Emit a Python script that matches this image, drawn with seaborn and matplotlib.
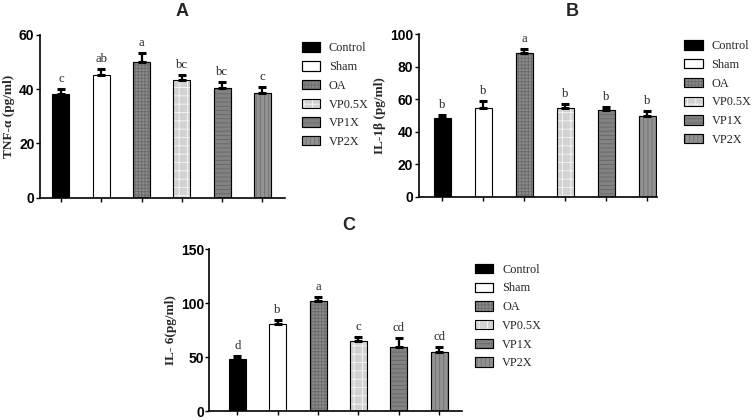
import matplotlib
matplotlib.use("Agg")
import matplotlib.pyplot as plt
import matplotlib.patches as mpatches
import seaborn as sns

# group names and per-panel means / SEM (upper only) / significance letters
groups = ['Control', 'Sham', 'OA', 'VP0.5X', 'VP1X', 'VP2X']

tnf = [38.2, 45.3, 50.0, 43.2, 40.4, 38.6]
tnf_err = [1.8, 2.0, 3.3, 2.1, 2.2, 2.1]
tnf_letters = ['c', 'ab', 'a', 'bc', 'bc', 'c']

il1b = [48.2, 54.9, 88.1, 54.7, 53.3, 49.6]
il1b_err = [2.0, 4.1, 2.7, 2.1, 2.0, 3.1]
il1b_letters = ['b', 'b', 'a', 'b', 'b', 'b']

il6 = [48.5, 80.2, 101.5, 64.5, 59.3, 54.6]
il6_err = [2.7, 4.1, 4.4, 3.7, 8.6, 4.4]
il6_letters = ['d', 'b', 'a', 'c', 'cd', 'cd']

# styling per group: face, hatch, hatch colour
faces = ['#000000', '#ffffff', '#8c8c8c', '#d2d2d2', '#828282', '#929292']
hatches = ['', '', '+++++', '++', '----', '||||']
hatch_cols = ['#000000', '#000000', '#6c6c6c', '#f4f4f4', '#6a6a6a', '#747474']

sns.set_style('ticks')
plt.rcParams['hatch.linewidth'] = 0.7
serif = ['Liberation Serif', 'DejaVu Serif']
sans = ['Liberation Sans', 'DejaVu Sans']

fig = plt.figure(figsize=(7.53, 4.2), dpi=100)


def panel(rect, vals, errs, letters, ylim, yticks, xlim, ylabel, leg_anchor):
    ax = fig.add_axes(rect)
    sns.barplot(x=groups, y=vals, hue=groups, palette=dict(zip(groups, faces)),
                legend=False, width=0.42, ax=ax, edgecolor='black', linewidth=0.8)
    bars = ax.patches[:len(groups)]
    xs = []
    for p, h, hc in zip(bars, hatches, hatch_cols):
        if h:
            p.set_hatch(h)
            p.set_edgecolor(hc)
            ax.add_patch(mpatches.Rectangle((p.get_x(), p.get_y()), p.get_width(),
                                            p.get_height(), fill=False,
                                            edgecolor='black', linewidth=0.8, zorder=3))
        xs.append(p.get_x() + p.get_width() / 2)
    ax.errorbar(xs, vals, yerr=[[0] * len(vals), errs], fmt='none', ecolor='black',
                elinewidth=1.6, capsize=2.6, capthick=2.2, zorder=4)
    off = (ylim[1] - ylim[0]) * 0.025
    for x, v, e, t in zip(xs, vals, errs, letters):
        ax.text(x, v + e + off, t, ha='center', va='bottom', fontsize=9.2,
                family=serif)
    ax.set_ylim(*ylim)
    ax.set_xlim(*xlim)
    ax.set_yticks(yticks)
    ax.set_xticks(range(len(groups)))
    ax.set_xticklabels([])
    for lab in ax.get_yticklabels():
        lab.set_fontweight('bold')
        lab.set_family(sans)
        lab.set_fontsize(10)
    ax.tick_params(axis='both', length=2.7, width=1.0, colors='black', pad=1.2)
    sns.despine(ax=ax)
    for s in ['left', 'bottom']:
        ax.spines[s].set_linewidth(1.2)
        ax.spines[s].set_color('black')
    ax.set_ylabel(ylabel, fontsize=9.5, fontweight='bold', family=serif, labelpad=3)

    handles = []
    for f, h, hc in zip(faces, hatches, hatch_cols):
        base = mpatches.Patch(facecolor=f, hatch=h, edgecolor=hc if h else 'black', linewidth=0.8)
        frame = mpatches.Patch(fill=False, edgecolor='black', linewidth=0.8)
        handles.append((base, frame))
    ax.legend(handles, groups, loc='upper left', bbox_to_anchor=leg_anchor,
              bbox_transform=fig.transFigure, frameon=False, borderpad=0,
              borderaxespad=0, handlelength=1.5, handleheight=0.8, handletextpad=0.7,
              labelspacing=0.55, prop={'family': serif, 'size': 8.8})
    return ax


panel([0.053, 0.529, 0.325, 0.388], tnf, tnf_err, tnf_letters, (0, 60), [0, 20, 40, 60],
      (-0.52, 5.55), 'TNF-α (pg/ml)', (0.401, 0.899))
panel([0.556, 0.531, 0.317, 0.388], il1b, il1b_err, il1b_letters, (0, 100),
      [0, 20, 40, 60, 80, 100], (-0.58, 5.25), 'IL-1β (pg/ml)', (0.909, 0.904))
panel([0.278, 0.021, 0.336, 0.386], il6, il6_err, il6_letters, (0, 150), [0, 50, 100, 150],
      (-0.69, 5.57), 'IL- 6(pg/ml)', (0.631, 0.372))

for t, x, y in [('A', 182, 12), ('B', 572, 12), ('C', 349, 225)]:
    fig.text(x / 753, 1 - y / 420, t, ha='center', va='center', fontsize=13,
             fontweight='bold', family=sans)

fig.savefig('out.png', dpi=100)
